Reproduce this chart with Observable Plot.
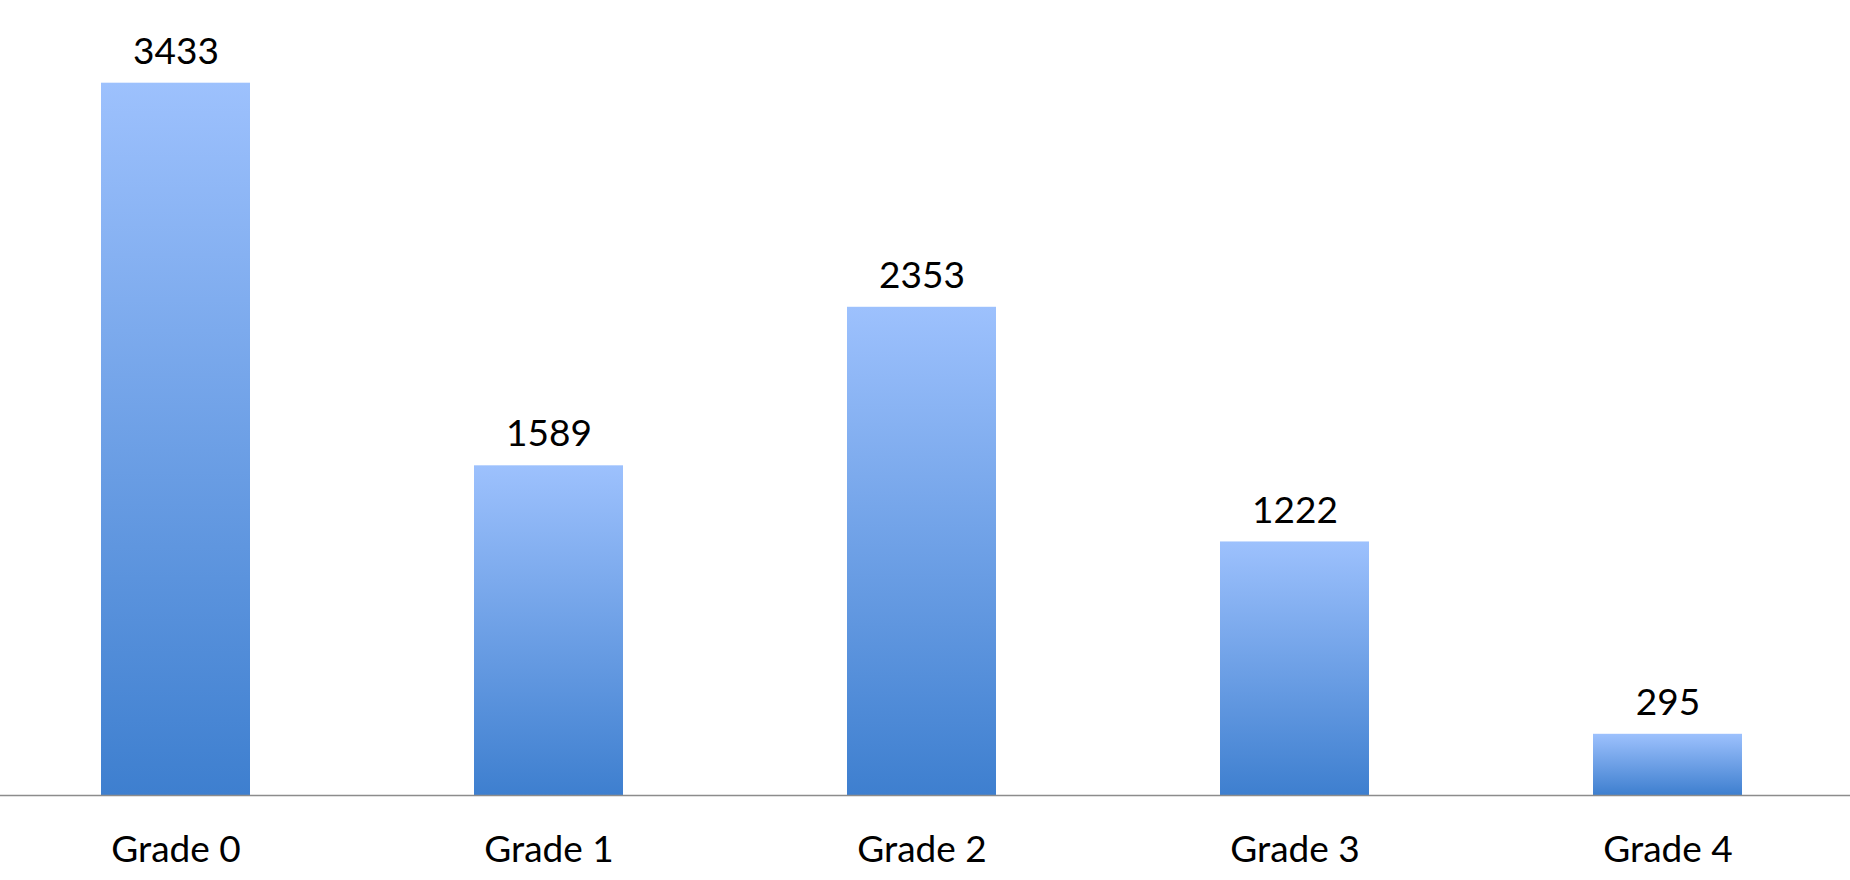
<!DOCTYPE html>
<html>
<head>
<meta charset="utf-8">
<script src="https://cdn.jsdelivr.net/npm/d3@7"></script>
<script src="https://cdn.jsdelivr.net/npm/@observablehq/plot@0.6"></script>
<style>
  html, body { margin: 0; padding: 0; background: #fff; }
  #chart svg { display: block; }
</style>
</head>
<body>
<div id="chart"></div>
<script>
const categories = ["Grade 0", "Grade 1", "Grade 2", "Grade 3", "Grade 4"];
const values = [3433, 1589, 2353, 1222, 295];

const data = categories.map((c, i) => ({grade: c, count: values[i]}));

const plot = Plot.plot({
  width: 1850,
  height: 880,
  marginLeft: 0,
  marginRight: 0,
  marginTop: 82.7,
  marginBottom: 85,
  style: {fontFamily: "Lato, sans-serif", fontSize: "37px", color: "#000", background: "#fff"},
  x: {domain: categories, range: [0, 1843.7], padding: 0.6, paddingOuter: 0.2707, label: null},
  y: {domain: [0, 3433], axis: null},
  marks: [
    Plot.barY(data, {x: "grade", y: "count", fill: "url(#barGrad)"}),
    Plot.ruleY([0], {stroke: "#8c8c8c", strokeWidth: 1.5}),
    Plot.text(data, {x: "grade", y: "count", text: d => String(d.count), lineAnchor: "bottom", dy: -19.4, fontSize: 37, fill: "#000"}),
    Plot.axisX({tickSize: 0, tickPadding: 40.7, fontSize: 37, label: null, fill: "#000"})
  ]
});

const svg = d3.select(plot);
const defs = svg.insert("defs", ":first-child");
const g = defs.append("linearGradient").attr("id", "barGrad").attr("x1", 0).attr("y1", 0).attr("x2", 0).attr("y2", 1);
g.append("stop").attr("offset", "0%").attr("stop-color", "#9dc1fd");
g.append("stop").attr("offset", "100%").attr("stop-color", "#3e7fcf");

document.getElementById("chart").appendChild(plot);
</script>
</body>
</html>
